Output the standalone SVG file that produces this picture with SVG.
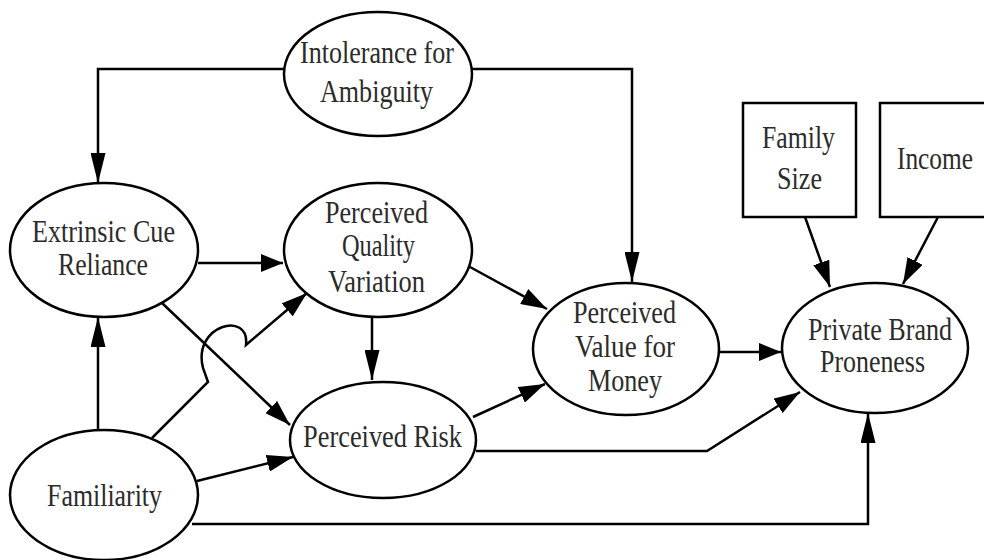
<svg xmlns="http://www.w3.org/2000/svg" width="984" height="560" viewBox="0 0 984 560">
<style>
.n{fill:#fff;stroke:#000;stroke-width:2.5}
.t{font-family:"Liberation Serif","Times New Roman",serif;font-size:26px;fill:#2b2b2b}
.c{fill:none;stroke:#000;stroke-width:2.5}
</style>
<defs>
<marker id="ah" markerUnits="userSpaceOnUse" markerWidth="22" markerHeight="18" refX="22" refY="9" orient="auto"><path d="M0,0 L22,9 L0,18 z" fill="#000"/></marker>
<marker id="av" markerUnits="userSpaceOnUse" markerWidth="30" markerHeight="15" refX="30" refY="7.5" orient="auto"><path d="M0,0 L30,7.5 L0,15 z" fill="#000"/></marker>
<marker id="ad" markerUnits="userSpaceOnUse" markerWidth="26" markerHeight="17" refX="26" refY="8.5" orient="auto"><path d="M0,0 L26,8.5 L0,17 z" fill="#000"/></marker>
</defs>
<rect width="984" height="560" fill="#fff"/>
<g id="connectors">
<path class="c" d="M284,69 H98 V183" marker-end="url(#av)"/>
<path class="c" d="M472,69 H632 V282" marker-end="url(#av)"/>
<path class="c" d="M198,263 H283" marker-end="url(#ah)"/>
<path class="c" d="M98,430 V317" marker-end="url(#av)"/>
<path class="c" d="M152,438 L208,382 L203,368 C192,325 250,310 246,345 L307,293" marker-end="url(#ad)"/>
<path class="c" d="M162,303 L290,425" marker-end="url(#ad)"/>
<path class="c" d="M372,317 V380" marker-end="url(#av)"/>
<path class="c" d="M197,481 L293,457" marker-end="url(#ad)"/>
<path class="c" d="M470,267 L547,309" marker-end="url(#ad)"/>
<path class="c" d="M473,417 L545,384" marker-end="url(#ad)"/>
<path class="c" d="M719,352 H781" marker-end="url(#ah)"/>
<path class="c" d="M476,451 H707 L800,392" marker-end="url(#ad)"/>
<path class="c" d="M192,524 H868 V413" marker-end="url(#av)"/>
<path class="c" d="M805,217 L830,287" marker-end="url(#ad)"/>
<path class="c" d="M938,217 L903,284" marker-end="url(#ad)"/>
</g>
<g id="intolerance">
<ellipse class="n" cx="378" cy="74" rx="94" ry="62"/>
<text class="t" transform="translate(300,63) scale(1,1.2)" textLength="154" lengthAdjust="spacingAndGlyphs">Intolerance for</text>
<text class="t" transform="translate(320,102) scale(1,1.2)" textLength="113" lengthAdjust="spacingAndGlyphs">Ambiguity</text>
</g>
<g id="extrinsic">
<ellipse class="n" cx="104" cy="250" rx="94" ry="67"/>
<text class="t" transform="translate(32,242) scale(1,1.2)" textLength="143" lengthAdjust="spacingAndGlyphs">Extrinsic Cue</text>
<text class="t" transform="translate(58,275) scale(1,1.2)" textLength="90" lengthAdjust="spacingAndGlyphs">Reliance</text>
</g>
<g id="quality">
<ellipse class="n" cx="378" cy="250" rx="94" ry="67"/>
<text class="t" transform="translate(325,223) scale(1,1.2)" textLength="103" lengthAdjust="spacingAndGlyphs">Perceived</text>
<text class="t" transform="translate(342,256) scale(1,1.2)" textLength="73" lengthAdjust="spacingAndGlyphs">Quality</text>
<text class="t" transform="translate(328,292) scale(1,1.2)" textLength="97" lengthAdjust="spacingAndGlyphs">Variation</text>
</g>
<g id="risk">
<ellipse class="n" cx="383" cy="440" rx="93" ry="58"/>
<text class="t" transform="translate(303,447) scale(1,1.2)" textLength="159" lengthAdjust="spacingAndGlyphs">Perceived Risk</text>
</g>
<g id="familiarity">
<ellipse class="n" cx="104" cy="495" rx="94" ry="65"/>
<text class="t" transform="translate(47,506) scale(1,1.2)" textLength="115" lengthAdjust="spacingAndGlyphs">Familiarity</text>
</g>
<g id="value">
<ellipse class="n" cx="626" cy="349" rx="93" ry="66"/>
<text class="t" transform="translate(573,323) scale(1,1.2)" textLength="103" lengthAdjust="spacingAndGlyphs">Perceived</text>
<text class="t" transform="translate(575,357) scale(1,1.2)" textLength="100" lengthAdjust="spacingAndGlyphs">Value for</text>
<text class="t" transform="translate(588,391) scale(1,1.2)" textLength="74" lengthAdjust="spacingAndGlyphs">Money</text>
</g>
<g id="proneness">
<ellipse class="n" cx="875" cy="348" rx="93" ry="65"/>
<text class="t" transform="translate(808,340) scale(1,1.2)" textLength="144" lengthAdjust="spacingAndGlyphs">Private Brand</text>
<text class="t" transform="translate(820,372) scale(1,1.2)" textLength="105" lengthAdjust="spacingAndGlyphs">Proneness</text>
</g>
<g id="familysize">
<rect class="n" x="743" y="103" width="113" height="114"/>
<text class="t" transform="translate(762,148) scale(1,1.2)" textLength="73" lengthAdjust="spacingAndGlyphs">Family</text>
<text class="t" transform="translate(777,189) scale(1,1.2)" textLength="45" lengthAdjust="spacingAndGlyphs">Size</text>
</g>
<g id="income">
<rect class="n" x="880" y="103" width="110" height="114"/>
<text class="t" transform="translate(897,169) scale(1,1.2)" textLength="76" lengthAdjust="spacingAndGlyphs">Income</text>
</g>
</svg>
